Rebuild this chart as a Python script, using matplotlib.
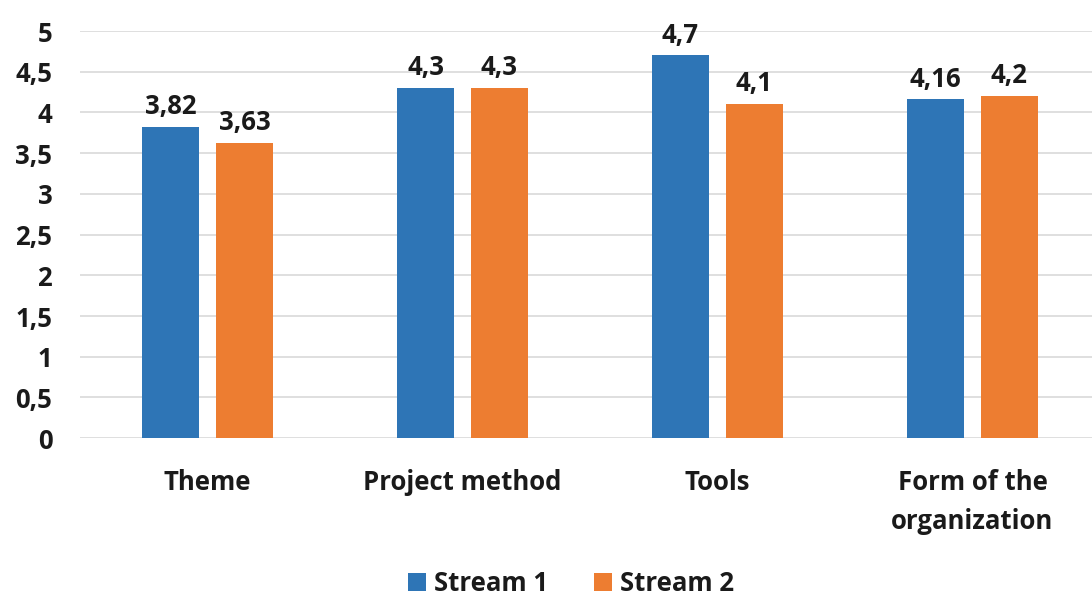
import numpy as np
import matplotlib.pyplot as plt

categories = ["Theme", "Project method", "Tools", "Form of the\norganization"]
stream1 = [3.82, 4.3, 4.7, 4.16]
stream2 = [3.63, 4.3, 4.1, 4.2]
labels1 = ["3,82", "4,3", "4,7", "4,16"]
labels2 = ["3,63", "4,3", "4,1", "4,2"]
yticks = [0, 0.5, 1, 1.5, 2, 2.5, 3, 3.5, 4, 4.5, 5]
ytick_labels = ["0", "0,5", "1", "1,5", "2", "2,5", "3", "3,5", "4", "4,5", "5"]

plt.rcParams['font.family'] = ['Open Sans', 'DejaVu Sans']
fs = 18.5
txt = "#1a1a1a"

fig = plt.figure(figsize=(10.92, 5.97), dpi=100)
ax = fig.add_axes([0.0733, 0.266, 0.934, 0.682])

x = np.arange(len(categories))
w = 0.224
off = 0.145
b1 = ax.bar(x - off, stream1, w, color="#2E75B6", label="Stream 1", zorder=3)
b2 = ax.bar(x + off, stream2, w, color="#ED7D31", label="Stream 2", zorder=3)

for bars, labs in ((b1, labels1), (b2, labels2)):
    for bar, lab in zip(bars, labs):
        ax.annotate(lab, (bar.get_x() + bar.get_width() / 2, bar.get_height()),
                    xytext=(0, 5), textcoords="offset points", ha="center", va="bottom",
                    fontsize=fs, fontweight="bold", color=txt)

ax.set_ylim(0, 5)
ax.set_xlim(-0.5, 3.5)
ax.set_yticks(yticks)
ax.set_yticklabels(ytick_labels, fontsize=fs, fontweight="bold", color=txt)
ax.set_xticks(x)
ax.set_xticklabels(categories, fontsize=fs, fontweight="bold", color=txt, linespacing=1.6)
ax.tick_params(axis="both", length=0)
ax.tick_params(axis="x", pad=22)
ax.tick_params(axis="y", pad=20)
ax.grid(axis="y", color="#D9D9D9", linewidth=1.2, zorder=0)
for s in ax.spines.values():
    s.set_visible(False)

fig.legend(handles=[b1, b2], loc="center", bbox_to_anchor=(0.523, 0.022), ncol=2, frameon=False,
           prop={"size": fs, "weight": "bold"}, handlelength=0.7, handleheight=0.7,
           handletextpad=0.3, columnspacing=1.8, labelcolor=txt)

fig.savefig("out.png", dpi=100)
